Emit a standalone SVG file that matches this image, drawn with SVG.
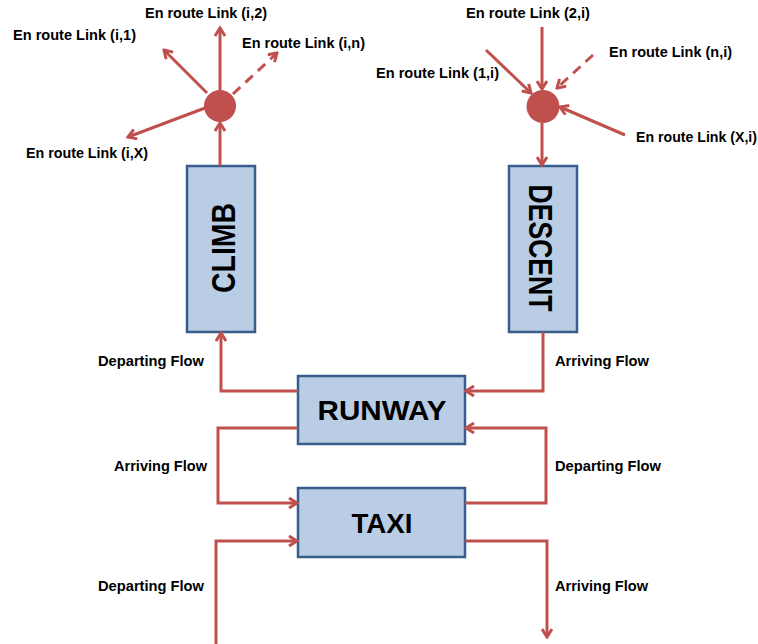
<svg xmlns="http://www.w3.org/2000/svg" width="758" height="644" viewBox="0 0 758 644">
  <style>
    .box { fill: #B9CDE5; stroke: #385D8A; stroke-width: 2.5; }
    .title { font-family: "Liberation Sans", Arial, sans-serif; font-weight: bold; fill: #000; }
    .lbl { font-family: "Liberation Sans", Arial, sans-serif; font-weight: bold; font-size: 14px; fill: #000; }
    .flow { fill: none; stroke: #C0504D; stroke-width: 3; stroke-linejoin: miter; }
    .dash { stroke-dasharray: 10 7; }
    .hub { fill: #C0504D; }
  </style>
  <defs>
    <marker id="arr" viewBox="0 0 12 12" refX="10" refY="6" markerWidth="12" markerHeight="12" orient="auto" markerUnits="userSpaceOnUse">
      <path d="M2,1 L10,6 L2,11" fill="none" stroke="#C0504D" stroke-width="3"/>
    </marker>
  </defs>

  <rect width="758" height="644" fill="#fff"/>

  <!-- phase boxes -->
  <g id="climb">
    <rect class="box" x="187" y="166" width="68" height="166"/>
    <text class="title" font-size="34" text-anchor="middle" textLength="90" lengthAdjust="spacingAndGlyphs" transform="translate(235,248) rotate(-90)">CLIMB</text>
  </g>
  <g id="descent">
    <rect class="box" x="509" y="166" width="68" height="166"/>
    <text class="title" font-size="34" text-anchor="middle" textLength="127" lengthAdjust="spacingAndGlyphs" transform="translate(529,248) rotate(90)">DESCENT</text>
  </g>
  <g id="runway">
    <rect class="box" x="298" y="376" width="167" height="68"/>
    <text class="title" font-size="28" x="382" y="420" text-anchor="middle" textLength="129" lengthAdjust="spacingAndGlyphs">RUNWAY</text>
  </g>
  <g id="taxi">
    <rect class="box" x="298" y="488" width="167" height="69"/>
    <text class="title" font-size="28" x="382" y="533" text-anchor="middle" textLength="61" lengthAdjust="spacingAndGlyphs">TAXI</text>
  </g>

  <!-- en route junctions -->
  <g id="departure-fix">
    <circle class="hub" cx="220" cy="106" r="16"/>
  </g>
  <g id="arrival-fix">
    <circle class="hub" cx="543" cy="106.5" r="16.5"/>
  </g>

  <!-- connectors -->
  <g id="connectors">
    <!-- outbound en route links -->
    <line class="flow" x1="220" y1="90" x2="220" y2="28" marker-end="url(#arr)"/>
    <line class="flow" x1="207" y1="93" x2="164" y2="50" marker-end="url(#arr)"/>
    <line class="flow dash" x1="233" y1="94" x2="277" y2="53" marker-end="url(#arr)"/>
    <line class="flow" x1="205" y1="108" x2="128" y2="137" marker-end="url(#arr)"/>
    <line class="flow" x1="220" y1="166" x2="220" y2="123" marker-end="url(#arr)"/>

    <!-- inbound en route links -->
    <line class="flow" x1="542" y1="27" x2="542" y2="89" marker-end="url(#arr)"/>
    <line class="flow" x1="486" y1="50" x2="531" y2="93" marker-end="url(#arr)"/>
    <line class="flow dash" x1="593" y1="55" x2="557" y2="88" marker-end="url(#arr)"/>
    <line class="flow" x1="625" y1="135" x2="560" y2="107" marker-end="url(#arr)"/>
    <line class="flow" x1="542" y1="123" x2="542" y2="165" marker-end="url(#arr)"/>

    <!-- runway / climb / descent -->
    <polyline class="flow" points="298,391 221,391 221,333" marker-end="url(#arr)"/>
    <polyline class="flow" points="543,332 543,391 466,391" marker-end="url(#arr)"/>

    <!-- runway / taxi -->
    <polyline class="flow" points="298,428 218,428 218,503 297,503" marker-end="url(#arr)"/>
    <polyline class="flow" points="465,503 546,503 546,428 466,428" marker-end="url(#arr)"/>

    <!-- taxi / gates -->
    <polyline class="flow" points="216,644 216,541 297,541" marker-end="url(#arr)"/>
    <polyline class="flow" points="465,541 547,541 547,637" marker-end="url(#arr)"/>
  </g>

  <!-- link labels -->
  <g id="labels">
    <text class="lbl" x="145" y="18" textLength="122" lengthAdjust="spacingAndGlyphs">En route Link (i,2)</text>
    <text class="lbl" x="13" y="40" textLength="123" lengthAdjust="spacingAndGlyphs">En route Link (i,1)</text>
    <text class="lbl" x="242" y="48" textLength="123" lengthAdjust="spacingAndGlyphs">En route Link (i,n)</text>
    <text class="lbl" x="26" y="158" textLength="122" lengthAdjust="spacingAndGlyphs">En route Link (i,X)</text>

    <text class="lbl" x="466" y="18" textLength="124" lengthAdjust="spacingAndGlyphs">En route Link (2,i)</text>
    <text class="lbl" x="609" y="57" textLength="123" lengthAdjust="spacingAndGlyphs">En route Link (n,i)</text>
    <text class="lbl" x="376" y="78" textLength="123" lengthAdjust="spacingAndGlyphs">En route Link (1,i)</text>
    <text class="lbl" x="636" y="142" textLength="121" lengthAdjust="spacingAndGlyphs">En route Link (X,i)</text>

    <text class="lbl" x="98" y="366" textLength="106" lengthAdjust="spacingAndGlyphs">Departing Flow</text>
    <text class="lbl" x="555" y="366" textLength="94" lengthAdjust="spacingAndGlyphs">Arriving Flow</text>
    <text class="lbl" x="114" y="471" textLength="93" lengthAdjust="spacingAndGlyphs">Arriving Flow</text>
    <text class="lbl" x="555" y="471" textLength="106" lengthAdjust="spacingAndGlyphs">Departing Flow</text>
    <text class="lbl" x="98" y="591" textLength="106" lengthAdjust="spacingAndGlyphs">Departing Flow</text>
    <text class="lbl" x="555" y="591" textLength="93" lengthAdjust="spacingAndGlyphs">Arriving Flow</text>
  </g>
</svg>
